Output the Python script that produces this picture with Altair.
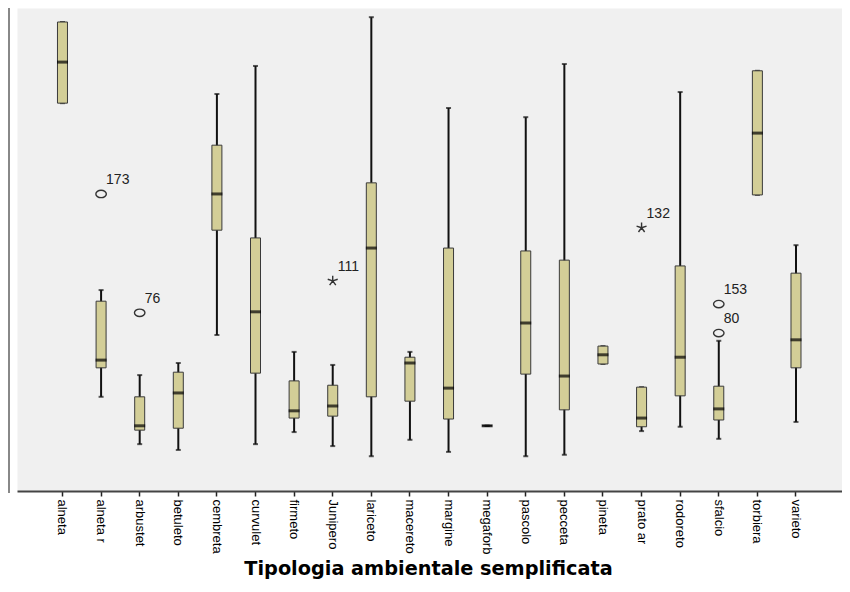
import altair as alt
import pandas as pd

# ---- data (arbitrary units: y axis is cropped in the original) ----
categories = ["alneta", "alneta r", "arbustet", "betuleto", "cembreta", "curvulet",
              "firmeto", "Junipero", "lariceto", "macereto", "margine", "megaforb",
              "pascolo", "pecceta", "pineta", "prato ar", "rodoreto", "sfalcio",
              "torbiera", "varieto"]
w_low  = [80.3, 19.5,  9.7,  8.5, 32.3,  9.7, 12.2,  9.3,  7.2, 10.6,  8.1, 13.5,  7.2,  7.5, 26.3, 12.4, 13.3, 10.8, 61.3, 14.3]
q1     = [80.3, 25.5, 12.6, 13.0, 54.0, 24.4, 15.1, 15.5, 19.5, 18.6, 14.9, 13.5, 24.2, 16.8, 26.3, 13.3, 19.7, 14.7, 61.3, 25.5]
median = [88.8, 27.1, 13.5, 20.3, 61.5, 37.1, 16.6, 17.6, 50.3, 26.5, 21.3, 13.5, 34.8, 23.8, 28.2, 15.1, 27.7, 17.0, 74.1, 31.3]
q3     = [97.1, 39.3, 19.5, 24.6, 71.6, 52.4, 22.8, 21.9, 63.8, 27.7, 50.3, 13.5, 49.7, 47.8, 30.0, 21.5, 46.6, 21.7, 87.0, 45.1]
w_high = [97.1, 41.6, 24.0, 26.5, 82.2, 88.0, 28.8, 26.1, 98.1, 28.8, 79.3, 13.5, 77.4, 88.4, 30.0, 21.5, 82.6, 31.1, 87.0, 50.9]

out_cat  = ["alneta r", "arbustet", "Junipero", "prato ar", "sfalcio", "sfalcio"]
out_val  = [61.5, 36.9, 43.5, 54.5, 38.7, 32.7]
out_id   = ["173", "76", "111", "132", "153", "80"]
out_kind = ["circle", "circle", "star", "star", "circle", "circle"]

boxes = pd.DataFrame({"cat": categories, "lo": w_low, "q1": q1, "med": median,
                      "q3": q3, "hi": w_high})
outliers = pd.DataFrame({"cat": out_cat, "val": out_val, "id": out_id, "kind": out_kind})

ELLIPSE = ("M-1,0 C-1,-0.39 -0.55,-0.7 0,-0.7 C0.55,-0.7 1,-0.39 1,0 "
           "C1,0.39 0.55,0.7 0,0.7 C-0.55,0.7 -1,0.39 -1,0 Z")
ASTER = ("M0,0L0,-1M0,0L0.951,-0.309M0,0L-0.951,-0.309"
         "M0,0L-0.588,0.809M0,0L0.588,0.809")

x_enc = alt.X(
    "cat:N", sort=categories,
    scale=alt.Scale(type="band", domain=categories, paddingInner=0,
                    paddingOuter=0.685, align=0.495),
    axis=alt.Axis(
        title="Tipologia ambientale semplificata",
        labelAngle=90, labelFont="Liberation Sans", labelFontSize=13,
        labelColor="#000000", labelPadding=3,
        tickSize=5, tickWidth=1.5, tickColor="#222222",
        domainColor="#444444", domainWidth=2,
        titleFont="DejaVu Sans", titleFontWeight="bold", titleFontSize=19.3,
        titleColor="#000000", titleY=83, titleX=411, titleAlign="center",
        titleBaseline="alphabetic", grid=False,
    ),
)
y_scale = alt.Scale(domain=[0, 100], nice=False, zero=False)

whisk = alt.Chart(boxes).mark_rule(color="#111111", strokeWidth=2).encode(
    x=x_enc, y=alt.Y("lo:Q", scale=y_scale, axis=None), y2="hi:Q")
cap_lo = alt.Chart(boxes).mark_tick(color="#111111", size=5, thickness=2).encode(
    x=x_enc, y=alt.Y("lo:Q", scale=y_scale, axis=None))
cap_hi = alt.Chart(boxes).mark_tick(color="#111111", size=5, thickness=2).encode(
    x=x_enc, y=alt.Y("hi:Q", scale=y_scale, axis=None))
box = alt.Chart(boxes).mark_bar(size=10, fill="#D3CE97", stroke="#3a3a3a",
                                strokeWidth=1).encode(
    x=x_enc, y=alt.Y("q1:Q", scale=y_scale, axis=None), y2="q3:Q")
med = alt.Chart(boxes).mark_tick(color="#000000", size=11, thickness=3).encode(
    x=x_enc, y=alt.Y("med:Q", scale=y_scale, axis=None))

pts = alt.Chart(outliers).mark_point(filled=False, strokeWidth=1.4, size=110,
                                     color="#333333", opacity=1).encode(
    x=x_enc, y=alt.Y("val:Q", scale=y_scale, axis=None),
    shape=alt.Shape("kind:N", scale=alt.Scale(domain=["circle", "star"],
                                              range=[ELLIPSE, ASTER]), legend=None))
lbl = alt.Chart(outliers).mark_text(align="left", baseline="middle", dx=5, dy=-14,
                                    font="Liberation Sans", fontSize=14,
                                    color="#222222").encode(
    x=x_enc, y=alt.Y("val:Q", scale=y_scale, axis=None), text="id:N")

frame = alt.Chart(pd.DataFrame({"a": [0]})).mark_rule(color="#888888", strokeWidth=2).encode(
    x=alt.value(-8), y=alt.value(-8), y2=alt.value(485))

chart = alt.layer(frame, whisk, cap_lo, cap_hi, box, med, pts, lbl).properties(
    width=825, height=483,
    autosize=alt.AutoSizeParams(type="none"),
    padding={"left": 9, "top": 0, "right": 0, "bottom": 88},
    background="#FFFFFF",
).configure_view(fill="#F0F0F0", stroke="transparent")

chart.save("out.html", embed_options={"renderer": "svg", "actions": False})
